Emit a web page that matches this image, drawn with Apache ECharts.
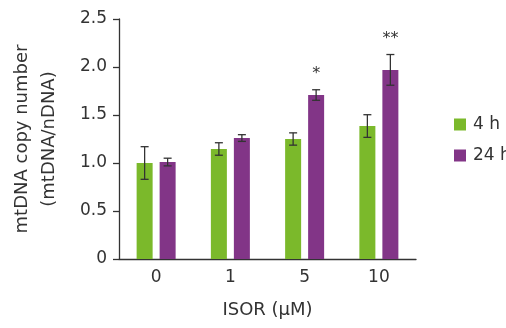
<!DOCTYPE html>
<html>
<head>
<meta charset="utf-8">
<script src="https://cdn.jsdelivr.net/npm/echarts@6/dist/echarts.min.js"></script>
<style>
  html, body { margin: 0; padding: 0; background: #fff; }
  #chart { width: 506px; height: 328px; }
</style>
</head>
<body>
<div id="chart"></div>
<script>
const categories = ['0', '1', '5', '10'];
const series4h = [1.00, 1.146, 1.25, 1.385];
const err4h = [0.17, 0.065, 0.064, 0.118];
const series24h = [1.01, 1.26, 1.708, 1.97];
const err24h = [0.04, 0.035, 0.055, 0.16];
const sig24h = ['', '', '*', '**'];

const GREEN = '#7bb92b';
const PURPLE = '#823587';
const INK = '#333333';
const BAR_W = 16;
const BAR_GAP = 7;
const FONT = '"DejaVu Sans", Verdana, sans-serif';

const chart = echarts.init(document.getElementById('chart'));

function errorSeries(name, values, errs, side, marks) {
  return {
    name: name + ' err',
    type: 'custom',
    silent: true,
    z: 5,
    data: values.map((v, i) => [i, v, errs[i]]),
    renderItem: function(params, api) {
      const i = api.value(0);
      const v = api.value(1);
      const e = api.value(2);
      const off = side * (BAR_W + BAR_GAP) / 2;
      const top = api.coord([i, v + e]);
      const bot = api.coord([i, v - e]);
      const x = top[0] + off;
      const cap = 4;
      const style = { stroke: INK, lineWidth: 1.3 };
      const kids = [
        { type: 'line', shape: { x1: x, y1: top[1], x2: x, y2: bot[1] }, style },
        { type: 'line', shape: { x1: x - cap, y1: top[1], x2: x + cap, y2: top[1] }, style },
        { type: 'line', shape: { x1: x - cap, y1: bot[1], x2: x + cap, y2: bot[1] }, style }
      ];
      const mark = marks ? marks[params.dataIndex] : '';
      if (mark) {
        kids.push({
          type: 'text',
          style: {
            x: x, y: top[1] - 8, text: mark,
            align: 'center', verticalAlign: 'bottom',
            fill: INK, font: '16px ' + FONT
          }
        });
      }
      return { type: 'group', children: kids };
    }
  };
}

chart.setOption({
  animation: false,
  textStyle: { fontFamily: FONT },
  grid: { left: 119, right: 90, top: 19, bottom: 69, containLabel: false, outerBoundsMode: 'none' },
  legend: {
    orient: 'vertical',
    left: 454,
    top: 116,
    padding: 0,
    itemWidth: 12,
    itemHeight: 12,
    itemGap: 14,
    icon: 'rect',
    textStyle: { fontSize: 17, color: INK, padding: [0, 0, 0, 2] },
    data: ['4 h', '24 h']
  },
  xAxis: {
    type: 'category',
    data: categories,
    name: 'ISOR (μM)',
    nameLocation: 'middle',
    nameGap: 42,
    nameTextStyle: { fontSize: 18, color: INK },
    axisLine: { lineStyle: { color: INK, width: 1.3 } },
    axisTick: { length: 6, lineStyle: { color: INK, width: 1.3 } },
    axisLabel: { fontSize: 17, color: INK, margin: 10 }
  },
  yAxis: {
    type: 'value',
    min: 0,
    max: 2.5,
    interval: 0.5,
    name: 'mtDNA copy number\n(mtDNA/nDNA)',
    nameLocation: 'middle',
    nameGap: 56,
    nameTextStyle: { fontSize: 18, color: INK, lineHeight: 27 },
    splitLine: { show: false },
    axisLine: { show: true, lineStyle: { color: INK, width: 1.3 } },
    axisTick: { show: true, length: 6, lineStyle: { color: INK, width: 1.3 } },
    axisLabel: {
      fontSize: 17, color: INK, margin: 12,
      formatter: v => (v === 0 ? '0' : v.toFixed(1))
    }
  },
  series: [
    {
      name: '4 h',
      type: 'bar',
      barWidth: BAR_W,
      barGap: (BAR_GAP / BAR_W * 100) + '%',
      itemStyle: { color: GREEN },
      data: series4h
    },
    {
      name: '24 h',
      type: 'bar',
      barWidth: BAR_W,
      barGap: (BAR_GAP / BAR_W * 100) + '%',
      itemStyle: { color: PURPLE },
      data: series24h
    },
    errorSeries('4 h', series4h, err4h, -1, null),
    errorSeries('24 h', series24h, err24h, 1, sig24h)
  ]
});
</script>
</body>
</html>
